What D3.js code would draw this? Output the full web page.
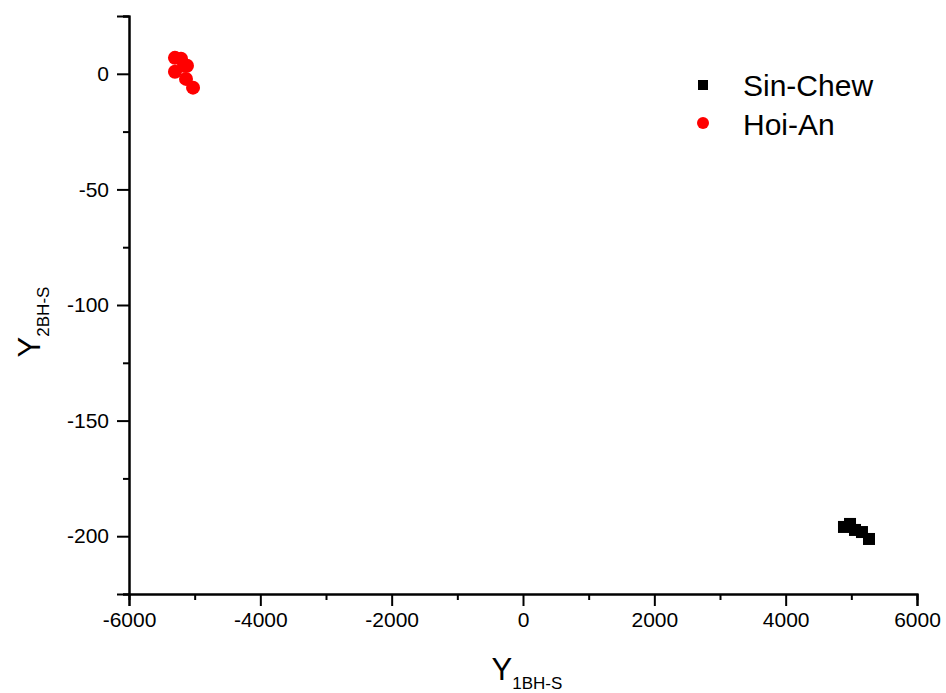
<!DOCTYPE html>
<html>
<head>
<meta charset="utf-8">
<script src="https://cdn.jsdelivr.net/npm/d3@7"></script>
<style>
  body { margin: 0; background: #fff; }
  text { font-family: "Liberation Sans", Arial, sans-serif; }
</style>
</head>
<body>
<svg width="946" height="693"></svg>
<script>
// Sin-Chew samples
let sinChewX = [ 4888, 4980, 5056, 5162, 5269 ]
let sinChewY = [ -196, -194.7, -197.3, -198.2, -201.2 ]

// Hoi-An samples
let hoiAnX = [ -5300, -5208, -5117, -5300, -5162, -5132, -5025 ]
let hoiAnY = [ 6.9, 6.5, 3.5, 0.9, 3.5, -2.2, -6.0 ]

let xTicks = [ -6000, -4000, -2000, 0, 2000, 4000, 6000 ]
let xMinor = [ -5000, -3000, -1000, 1000, 3000, 5000 ]
let yTicks = [ 0, -50, -100, -150, -200 ]
let yMinor = [ 25, -25, -75, -125, -175, -225 ]

let seriesNames = [ 'Sin-Chew', 'Hoi-An' ]

const plotLeft = 129, plotRight = 917, plotTop = 16, plotBottom = 594

const xScale =
d3.scaleLinear()
  .domain( [ -6000, 6000 ] )
  .range( [ plotLeft, plotRight ] )

const yScale =
d3.scaleLinear()
  .domain( [ -225, 25 ] )
  .range( [ plotBottom, plotTop ] )

let chart = d3.select( 'svg' )

// axes: major ticks with labels, minor ticks without (plain hyphen for minus)
let xAxis = d3.axisBottom( xScale ).tickValues( xTicks ).tickSize( 12 ).tickPadding( 6 ).tickFormat( d => String( d ) )
let xAxisMinor = d3.axisBottom( xScale ).tickValues( xMinor ).tickSize( 6 ).tickFormat( '' )
let yAxis = d3.axisLeft( yScale ).tickValues( yTicks ).tickSize( 12 ).tickPadding( 8 ).tickFormat( d => String( d ) )
let yAxisMinor = d3.axisLeft( yScale ).tickValues( yMinor ).tickSize( 6 ).tickFormat( '' )

chart.append( 'g' ).attr( 'transform', `translate(0,${plotBottom})` ).call( xAxis )
chart.append( 'g' ).attr( 'transform', `translate(0,${plotBottom})` ).call( xAxisMinor )
chart.append( 'g' ).attr( 'transform', `translate(${plotLeft},0)` ).call( yAxis )
chart.append( 'g' ).attr( 'transform', `translate(${plotLeft},0)` ).call( yAxisMinor )

chart.selectAll( '.domain' ).attr( 'stroke', '#000' ).attr( 'stroke-width', 2 )
chart.selectAll( '.tick line' ).attr( 'stroke', '#000' ).attr( 'stroke-width', 2 )
chart.selectAll( '.tick text' )
  .attr( 'fill', '#000' )
  .style( 'font-size', '21px' )
  .style( 'font-family', '"Liberation Sans", Arial, sans-serif' )

// axis titles with subscripts
let xTitle =
chart.append( 'text' )
  .attr( 'x', 527 )
  .attr( 'y', 680 )
  .attr( 'text-anchor', 'middle' )
  .style( 'font-size', '31px' )
xTitle.append( 'tspan' ).text( 'Y' )
xTitle.append( 'tspan' ).text( '1BH-S' ).attr( 'dy', 9 ).style( 'font-size', '17px' )

let yTitle =
chart.append( 'text' )
  .attr( 'transform', 'translate(40,322) rotate(-90)' )
  .attr( 'text-anchor', 'middle' )
  .style( 'font-size', '31px' )
yTitle.append( 'tspan' ).text( 'Y' )
yTitle.append( 'tspan' ).text( '2BH-S' ).attr( 'dy', 9 ).style( 'font-size', '17px' )

// points
let sinChew = sinChewX.map( ( x, i ) => ( { x: x, y: sinChewY[ i ] } ) )
let hoiAn = hoiAnX.map( ( x, i ) => ( { x: x, y: hoiAnY[ i ] } ) )

chart.selectAll( 'rect.sin' )
  .data( sinChew )
  .enter()
  .append( 'rect' )
  .attr( 'class', 'sin' )
  .attr( 'x', d => xScale( d.x ) - 6 )
  .attr( 'y', d => yScale( d.y ) - 6 )
  .attr( 'width', 12 )
  .attr( 'height', 12 )
  .attr( 'fill', '#000' )

chart.selectAll( 'circle.hoi' )
  .data( hoiAn )
  .enter()
  .append( 'circle' )
  .attr( 'class', 'hoi' )
  .attr( 'cx', d => xScale( d.x ) )
  .attr( 'cy', d => yScale( d.y ) )
  .attr( 'r', 7 )
  .attr( 'fill', '#f00' )

// legend
let legend = chart.append( 'g' ).attr( 'transform', 'translate(703,0)' )
legend.append( 'rect' ).attr( 'x', -5 ).attr( 'y', 80 ).attr( 'width', 10 ).attr( 'height', 10 ).attr( 'fill', '#000' )
legend.append( 'circle' ).attr( 'cx', 0 ).attr( 'cy', 123 ).attr( 'r', 6 ).attr( 'fill', '#f00' )
legend.selectAll( 'text' )
  .data( seriesNames )
  .enter()
  .append( 'text' )
  .text( d => d )
  .attr( 'x', 40 )
  .attr( 'y', ( d, i ) => 96 + i * 39 )
  .style( 'font-size', '30px' )
</script>
</body>
</html>
